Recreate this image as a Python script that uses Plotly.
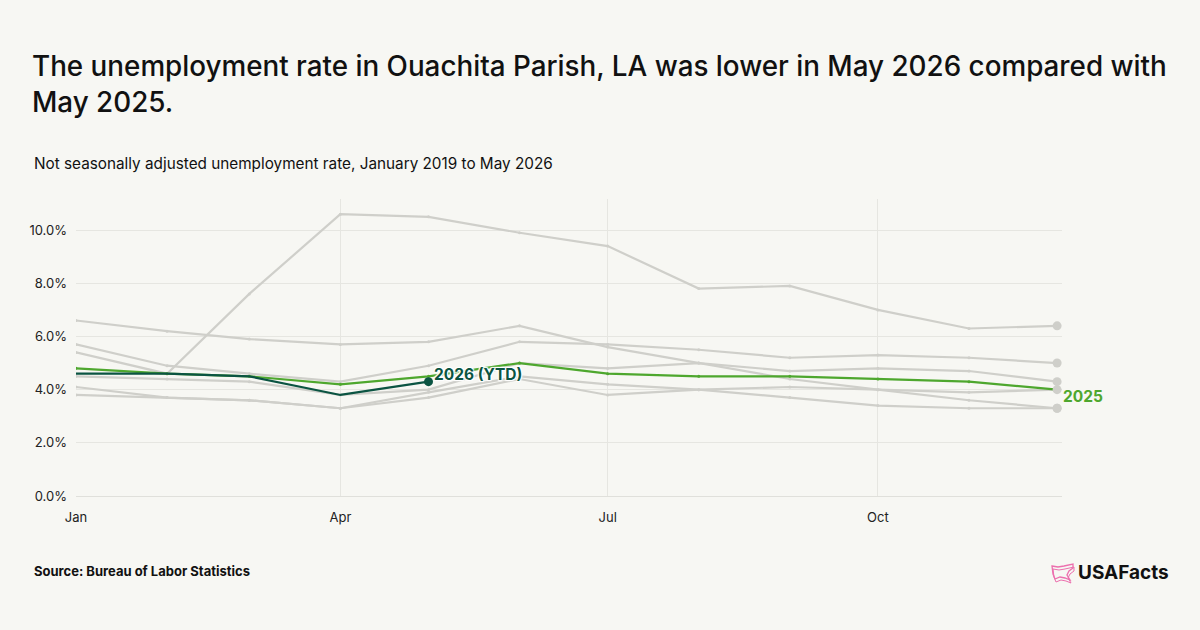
import plotly.graph_objects as go

# ---------------- data ----------------
month_dates = ["2025-01-01", "2025-02-01", "2025-03-01", "2025-04-01", "2025-05-01", "2025-06-01",
               "2025-07-01", "2025-08-01", "2025-09-01", "2025-10-01", "2025-11-01", "2025-12-01"]
tick_dates = ["2025-01-01", "2025-04-01", "2025-07-01", "2025-10-01"]
tick_labels = ["Jan", "Apr", "Jul", "Oct"]
y_ticks = [0, 2, 4, 6, 8, 10]
y_tick_labels = ["0.0%", "2.0%", "4.0%", "6.0%", "8.0%", "10.0%"]

rate_2019 = [5.7, 4.9, 4.6, 4.3, 4.9, 5.8, 5.7, 5.5, 5.2, 5.3, 5.2, 5.0]
rate_2020 = [5.4, 4.6, 7.6, 10.6, 10.5, 9.9, 9.4, 7.8, 7.9, 7.0, 6.3, 6.4]
rate_2021 = [6.6, 6.2, 5.9, 5.7, 5.8, 6.4, 5.6, 5.0, 4.4, 4.0, 3.6, 3.3]
rate_2022 = [4.5, 4.4, 4.3, 3.8, 4.0, 5.0, 4.8, 5.0, 4.7, 4.8, 4.7, 4.3]
rate_2023 = [4.1, 3.7, 3.6, 3.3, 3.9, 4.5, 4.2, 4.0, 3.7, 3.4, 3.3, 3.3]
rate_2024 = [3.8, 3.7, 3.6, 3.3, 3.7, 4.4, 3.8, 4.0, 4.1, 4.0, 3.9, 4.0]
rate_2025 = [4.8, 4.6, 4.5, 4.2, 4.5, 5.0, 4.6, 4.5, 4.5, 4.4, 4.3, 4.0]
rate_2026 = [4.6, 4.6, 4.5, 3.8, 4.3]

gray_years = {"2019": rate_2019, "2020": rate_2020, "2021": rate_2021,
              "2022": rate_2022, "2023": rate_2023, "2024": rate_2024}

# ---------------- style ----------------
BG = "#f7f7f3"
GRAY = "#cfcfca"
GREEN = "#4ea72e"
DARK = "#0b5442"
FONT = "Inter"

# plot area in pixels
L, R, T, B = 76, 1062, 199, 496
W, H = 1200, 630

def px(x):
    return (x - L) / (R - L)

def py(y):
    return (B - y) / (B - T)

fig = go.Figure()

for name, vals in gray_years.items():
    fig.add_trace(go.Scatter(
        x=month_dates, y=vals, mode="lines+markers", name=name,
        line=dict(color=GRAY, width=2.2),
        marker=dict(color=GRAY, size=3),
        hoverinfo="skip", showlegend=False))

fig.add_trace(go.Scatter(
    x=month_dates, y=rate_2025, mode="lines+markers", name="2025",
    line=dict(color=GREEN, width=2.2),
    marker=dict(color=GREEN, size=3),
    showlegend=False))

# end dots of gray lines on top
fig.add_trace(go.Scatter(
    x=[month_dates[-1]] * len(gray_years),
    y=[v[-1] for v in gray_years.values()],
    mode="markers", marker=dict(color=GRAY, size=9),
    hoverinfo="skip", showlegend=False))

fig.add_trace(go.Scatter(
    x=month_dates[:len(rate_2026)], y=rate_2026, mode="lines", name="2026",
    line=dict(color=DARK, width=2.2), showlegend=False))
fig.add_trace(go.Scatter(
    x=[month_dates[len(rate_2026) - 1]], y=[rate_2026[-1]], mode="markers",
    marker=dict(color=DARK, size=9), showlegend=False))

# series labels
fig.add_annotation(x=month_dates[len(rate_2026) - 1], y=rate_2026[-1], xref="x", yref="y",
                   text="<b>2026 (YTD)</b>", showarrow=False, xanchor="left", yanchor="middle",
                   xshift=4, yshift=7,
                   font=dict(family=FONT, size=15.5, color=DARK,
                             shadow="1px 1px 1px white, -1px -1px 1px white, 1px -1px 1px white, -1px 1px 1px white"))
fig.add_annotation(x=month_dates[-1], y=rate_2025[-1], xref="x", yref="y",
                   text="<b>2025</b>", showarrow=False, xanchor="left", yanchor="middle",
                   xshift=4, yshift=-7,
                   font=dict(family=FONT, size=15.5, color=GREEN))

# text blocks
fig.add_annotation(x=px(32), y=py(163), xref="paper", yref="paper",
                   text="Not seasonally adjusted unemployment rate, January 2019 to May 2026",
                   showarrow=False, xanchor="left", yanchor="middle",
                   font=dict(family=FONT, size=15.3, color="#111111"))
fig.add_annotation(x=px(32), y=py(571), xref="paper", yref="paper",
                   text="<b>Source: Bureau of Labor Statistics</b>",
                   showarrow=False, xanchor="left", yanchor="middle",
                   font=dict(family=FONT, size=13, color="#111111"))
fig.add_annotation(x=px(1076), y=py(572), xref="paper", yref="paper", text="<b>USAFacts</b>",
                   showarrow=False, xanchor="left", yanchor="middle",
                   font=dict(family=FONT, size=19, color="#111111"))

# small pink map icon
pts = [(1052, 566), (1058, 567), (1064, 566), (1073, 564), (1073, 568), (1069, 571),
       (1067, 575), (1070, 580), (1065, 578), (1060, 577), (1055, 579), (1053, 574)]
path = "M " + " L ".join(f"{px(a):.5f},{py(b):.5f}" for a, b in pts) + " Z"
fig.add_shape(type="path", path=path, xref="paper", yref="paper",
              line=dict(color="#ec6fae", width=1.3))
pts2 = [(a + 1, b + 3) for a, b in pts]
path2 = "M " + " L ".join(f"{px(a):.5f},{py(b):.5f}" for a, b in pts2) + " Z"
fig.add_shape(type="path", path=path2, xref="paper", yref="paper",
              line=dict(color="#ec6fae", width=1))

fig.update_layout(
    width=W, height=H,
    paper_bgcolor=BG, plot_bgcolor=BG,
    margin=dict(l=L, r=W - R, t=T, b=H - B),
    title=dict(text="The unemployment rate in Ouachita Parish, LA was lower in May 2026 compared with<br>May 2025.",
               x=32 / W, xanchor="left", xref="container",
               y=1 - 76 / H, yanchor="top", yref="container",
               font=dict(family=FONT, size=27.8, color="#111111", weight=500)),
    font=dict(family=FONT, color="#222222"),
    showlegend=False,
    hovermode=False,
)

fig.update_xaxes(
    type="date", range=["2025-01-01", "2025-12-02 16:00"],
    tickvals=tick_dates, ticktext=tick_labels,
    showgrid=True, gridcolor="#e6e6e1", gridwidth=1,
    zeroline=False, showline=False, ticks="", ticklabelstandoff=12,
    tickfont=dict(family=FONT, size=13, color="#222222"),
)
fig.update_yaxes(
    range=[0, 11.17], tickvals=y_ticks, ticktext=y_tick_labels,
    showgrid=True, gridcolor="#e6e6e1", gridwidth=1,
    zeroline=True, zerolinecolor="#e0e0db", zerolinewidth=1,
    showline=False, ticks="", ticklabelstandoff=8,
    tickfont=dict(family=FONT, size=13, color="#222222"),
)

fig.write_html("out.html")
